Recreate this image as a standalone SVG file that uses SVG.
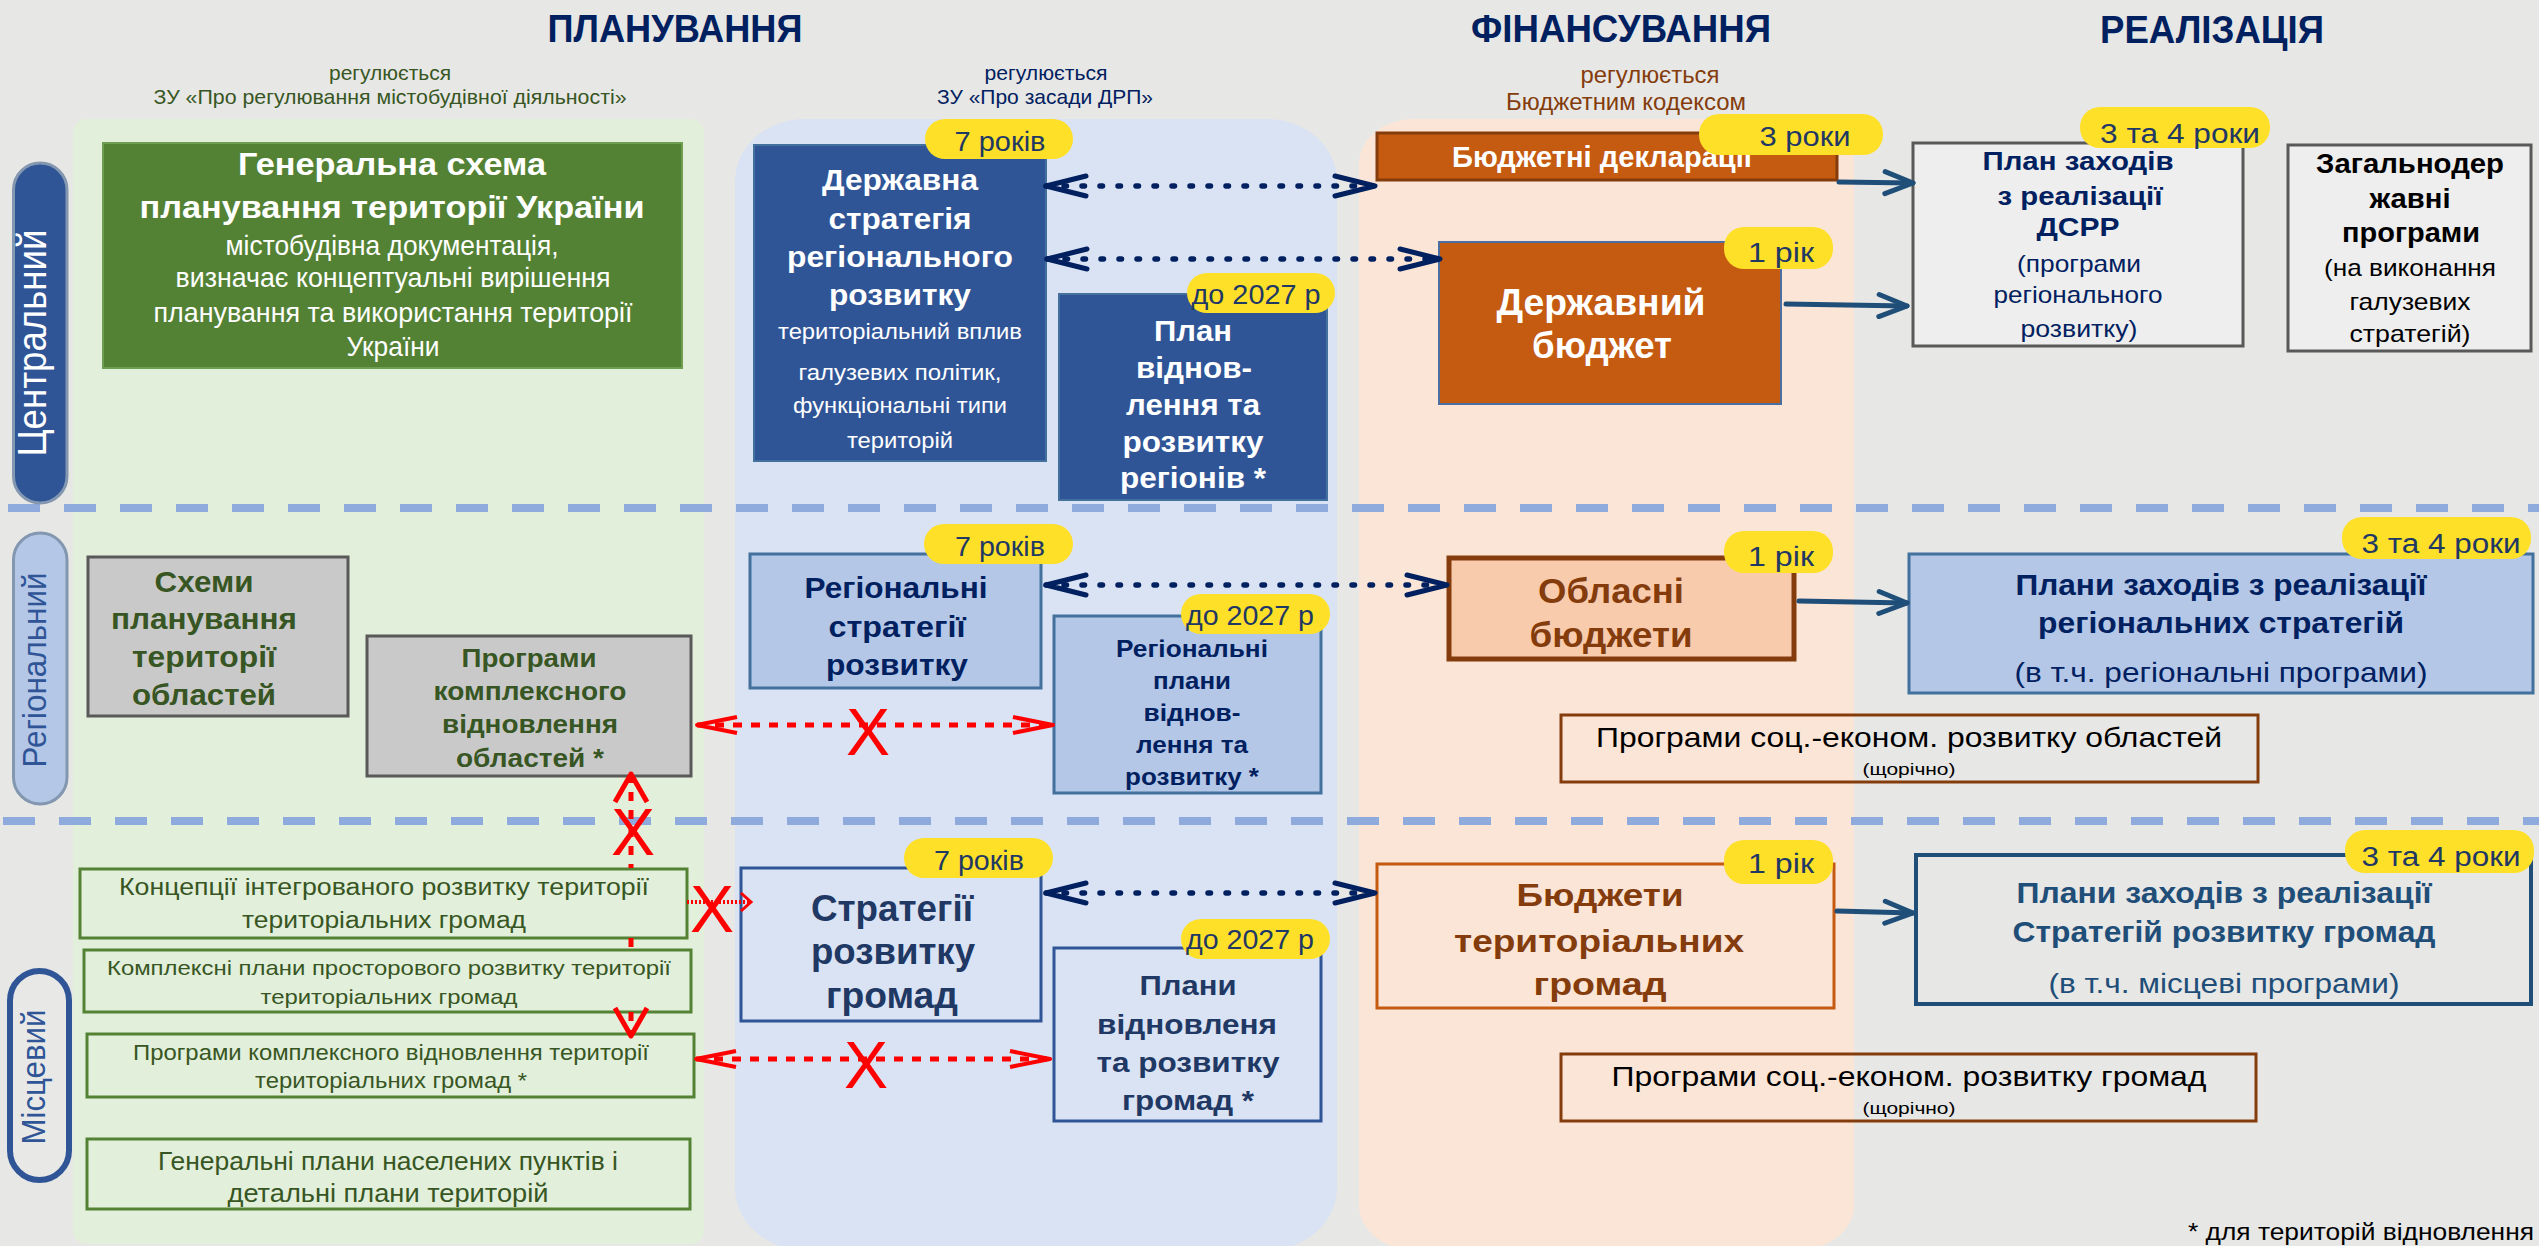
<svg xmlns="http://www.w3.org/2000/svg" width="2539" height="1246" viewBox="0 0 2539 1246">
<style>
text{font-family:"Liberation Sans",Arial,sans-serif;text-anchor:middle}
.b{font-weight:bold}
.ttl{font-size:38px;font-weight:bold;fill:#002060}
.badge{fill:#FFE028}
.bt{font-size:27px;fill:#1F3864}
.w{fill:#ffffff}
.nv{fill:#002060}
.dg{fill:#375623}
.br{fill:#843C0C}
.bk{fill:#000000}
.nd{fill:#1F3864}
.sb{fill:#1F4E79}
.dotn{fill:none;stroke:#002060;stroke-width:5.5;stroke-dasharray:2.5 15.5;stroke-linecap:round}
.solid{fill:none;stroke:#1F4E79;stroke-width:5;stroke-linecap:round}
.dotr{fill:none;stroke:#FF0000;stroke-width:5;stroke-dasharray:9 9}
.xr{fill:#FF0000;font-size:66px}
.div{stroke:#8FAADC;stroke-width:8;stroke-dasharray:32 24}
</style>
<defs>
<marker id="mN" markerUnits="userSpaceOnUse" markerWidth="60" markerHeight="40" refX="0" refY="0" orient="auto-start-reverse" overflow="visible"><path d="M-40,-10 L0,0 L-40,10" fill="none" stroke="#002060" stroke-width="5" stroke-linejoin="round" stroke-linecap="round"/></marker>
<marker id="mS" markerUnits="userSpaceOnUse" markerWidth="60" markerHeight="40" refX="0" refY="0" orient="auto" overflow="visible"><path d="M-28,-11 L0,0 L-28,11" fill="none" stroke="#1F4E79" stroke-width="5" stroke-linejoin="round" stroke-linecap="round"/></marker>
<marker id="mR" markerUnits="userSpaceOnUse" markerWidth="60" markerHeight="40" refX="0" refY="0" orient="auto-start-reverse" overflow="visible"><path d="M-40,-8 L0,0 L-40,8" fill="none" stroke="#FF0000" stroke-width="4" stroke-linejoin="round"/></marker>
<marker id="mRV" markerUnits="userSpaceOnUse" markerWidth="60" markerHeight="60" refX="0" refY="0" orient="auto-start-reverse" overflow="visible"><path d="M-28,-16 L0,0 L-28,16" fill="none" stroke="#FF0000" stroke-width="5" stroke-linejoin="round"/></marker>
<marker id="mRs" markerUnits="userSpaceOnUse" markerWidth="30" markerHeight="30" refX="0" refY="0" orient="auto" overflow="visible"><path d="M-10,-9 L0,0 L-10,9" fill="none" stroke="#FF0000" stroke-width="3"/></marker>
</defs>
<rect x="0" y="0" width="2539" height="1246" fill="#E7E7E5"/>
<g id="panels">
<rect x="73" y="119" width="631" height="1125" rx="14" fill="#E2EFDA"/>
<rect x="735" y="119" width="602" height="1131" rx="70" ry="62" fill="#DAE3F3"/>
<rect x="1359" y="119" width="495" height="1131" rx="55" ry="45" fill="#FBE5D6"/>
</g>
<g id="titles">
<text class="ttl" x="675" y="42" textLength="255" lengthAdjust="spacingAndGlyphs">ПЛАНУВАННЯ</text>
<text class="ttl" x="1621" y="42" textLength="300" lengthAdjust="spacingAndGlyphs">ФІНАНСУВАННЯ</text>
<text class="ttl" x="2212" y="43" textLength="224" lengthAdjust="spacingAndGlyphs">РЕАЛІЗАЦІЯ</text>
<text class="dg" x="390" y="80" font-size="21" textLength="122" lengthAdjust="spacingAndGlyphs">регулюється</text>
<text class="dg" x="390" y="104" font-size="21" textLength="473" lengthAdjust="spacingAndGlyphs">ЗУ «Про регулювання містобудівної діяльності»</text>
<text class="nv" x="1046" y="80" font-size="21" textLength="123" lengthAdjust="spacingAndGlyphs">регулюється</text>
<text class="nv" x="1045" y="104" font-size="21" textLength="216" lengthAdjust="spacingAndGlyphs">ЗУ «Про засади ДРП»</text>
<text class="br" x="1650" y="83" font-size="23" textLength="139" lengthAdjust="spacingAndGlyphs">регулюється</text>
<text class="br" x="1626" y="110" font-size="23" textLength="240" lengthAdjust="spacingAndGlyphs">Бюджетним кодексом</text>
</g>
<g id="dividers">
<line class="div" x1="8" y1="508" x2="2539" y2="508"/>
<line class="div" x1="3" y1="821" x2="2539" y2="821"/>
</g>
<g id="level-central">
<rect x="13.5" y="163" width="53.5" height="340" rx="26.75" fill="#2F5597" stroke="#8497B0" stroke-width="3"/>
<text class="w" transform="translate(46,343) rotate(-90)" font-size="41" textLength="227" lengthAdjust="spacingAndGlyphs">Центральний</text>
</g>
<g id="level-regional">
<rect x="13.5" y="533" width="53.5" height="271" rx="26.75" fill="#B4C7E7" stroke="#8497B0" stroke-width="3"/>
<text transform="translate(46,670) rotate(-90)" fill="#2F5597" font-size="34" textLength="195" lengthAdjust="spacingAndGlyphs">Регіональний</text>
</g>
<g id="level-local">
<rect x="10" y="971" width="59" height="209" rx="29.5" fill="#E8E8E7" stroke="#2F5597" stroke-width="6"/>
<text transform="translate(45,1077) rotate(-90)" fill="#2F5597" font-size="34" textLength="135" lengthAdjust="spacingAndGlyphs">Місцевий</text>
</g>
<g id="general-scheme">
<rect x="103" y="143" width="579" height="225" fill="#548235" stroke="#6E9E50" stroke-width="2"/>
<text class="w b" x="392" y="175" font-size="31" textLength="308" lengthAdjust="spacingAndGlyphs">Генеральна схема</text>
<text class="w b" x="392" y="218" font-size="31" textLength="505" lengthAdjust="spacingAndGlyphs">планування території України</text>
<text class="w" x="392" y="255" font-size="28" textLength="333" lengthAdjust="spacingAndGlyphs">містобудівна документація,</text>
<text class="w" x="393" y="287" font-size="28" textLength="435" lengthAdjust="spacingAndGlyphs">визначає концептуальні  вирішення</text>
<text class="w" x="393" y="322" font-size="28" textLength="479" lengthAdjust="spacingAndGlyphs">планування та  використання території</text>
<text class="w" x="393" y="356" font-size="28" textLength="93" lengthAdjust="spacingAndGlyphs">України</text>
</g>
<g id="state-strategy">
<rect x="754" y="145" width="292" height="316" fill="#2F5597" stroke="#41719C" stroke-width="2"/>
<text class="w b" x="900" y="190" font-size="30" textLength="156" lengthAdjust="spacingAndGlyphs">Державна</text>
<text class="w b" x="900" y="229" font-size="30" textLength="143" lengthAdjust="spacingAndGlyphs">стратегія</text>
<text class="w b" x="900" y="267" font-size="30" textLength="226" lengthAdjust="spacingAndGlyphs">регіонального</text>
<text class="w b" x="900" y="305" font-size="30" textLength="142" lengthAdjust="spacingAndGlyphs">розвитку</text>
<text class="w" x="900" y="339" font-size="22" textLength="244" lengthAdjust="spacingAndGlyphs">територіальний вплив</text>
<text class="w" x="900" y="380" font-size="22" textLength="203" lengthAdjust="spacingAndGlyphs">галузевих політик,</text>
<text class="w" x="900" y="413" font-size="22" textLength="214" lengthAdjust="spacingAndGlyphs">функціональні типи</text>
<text class="w" x="900" y="448" font-size="22" textLength="106" lengthAdjust="spacingAndGlyphs">територій</text>
<rect class="badge" x="925" y="119" width="148" height="40" rx="20"/>
<text class="bt" x="1000" y="151" textLength="91" lengthAdjust="spacingAndGlyphs">7 років</text>
</g>
<g id="recovery-plan-regions">
<rect x="1059" y="294" width="268" height="206" fill="#2F5597" stroke="#41719C" stroke-width="2"/>
<text class="w b" x="1193" y="341" font-size="29" textLength="78" lengthAdjust="spacingAndGlyphs">План</text>
<text class="w b" x="1194" y="378" font-size="29" textLength="116" lengthAdjust="spacingAndGlyphs">віднов-</text>
<text class="w b" x="1193" y="415" font-size="29" textLength="134" lengthAdjust="spacingAndGlyphs">лення та</text>
<text class="w b" x="1193" y="452" font-size="29" textLength="141" lengthAdjust="spacingAndGlyphs">розвитку</text>
<text class="w b" x="1193" y="488" font-size="29" textLength="146" lengthAdjust="spacingAndGlyphs">регіонів *</text>
<rect class="badge" x="1187" y="273" width="148" height="40" rx="20"/>
<text class="bt" x="1256" y="304" textLength="129" lengthAdjust="spacingAndGlyphs">до 2027 р</text>
</g>
<g id="budget-declarations">
<rect x="1377" y="133" width="460" height="47" fill="#C55A11" stroke="#843C0C" stroke-width="3"/>
<text class="w b" x="1602" y="167" font-size="30" textLength="300" lengthAdjust="spacingAndGlyphs">Бюджетні декларації</text>
<rect class="badge" x="1699" y="114" width="184" height="41" rx="20"/>
<text class="bt" x="1805" y="146" textLength="91" lengthAdjust="spacingAndGlyphs">3 роки</text>
</g>
<g id="state-budget">
<rect x="1439" y="242" width="342" height="162" fill="#C55A11" stroke="#4A6FA0" stroke-width="2"/>
<text class="w b" x="1601" y="315" font-size="36" textLength="209" lengthAdjust="spacingAndGlyphs">Державний</text>
<text class="w b" x="1602" y="358" font-size="36" textLength="140" lengthAdjust="spacingAndGlyphs">бюджет</text>
<rect class="badge" x="1724" y="227" width="109" height="42" rx="20"/>
<text class="bt" x="1781" y="262" textLength="66" lengthAdjust="spacingAndGlyphs">1 рік</text>
</g>
<g id="dsrr-action-plan">
<rect x="1913" y="143" width="330" height="203" fill="#EEEEEE" stroke="#595959" stroke-width="3"/>
<text class="nv b" x="2078" y="170" font-size="26" textLength="191" lengthAdjust="spacingAndGlyphs">План заходів</text>
<text class="nv b" x="2080" y="205" font-size="26" textLength="165" lengthAdjust="spacingAndGlyphs">з реалізації</text>
<text class="nv b" x="2078" y="236" font-size="26" textLength="83" lengthAdjust="spacingAndGlyphs">ДСРР</text>
<text class="nv" x="2079" y="272" font-size="24" textLength="124" lengthAdjust="spacingAndGlyphs">(програми</text>
<text class="nv" x="2078" y="303" font-size="24" textLength="169" lengthAdjust="spacingAndGlyphs">регіонального</text>
<text class="nv" x="2079" y="337" font-size="24" textLength="117" lengthAdjust="spacingAndGlyphs">розвитку)</text>
<rect class="badge" x="2080" y="107" width="190" height="41" rx="20"/>
<text class="bt" x="2180" y="143" textLength="160" lengthAdjust="spacingAndGlyphs">3 та 4 роки</text>
</g>
<g id="national-programs">
<rect x="2288" y="145" width="243" height="206" fill="#EEEEEE" stroke="#595959" stroke-width="3"/>
<text class="bk b" x="2410" y="173" font-size="28" textLength="188" lengthAdjust="spacingAndGlyphs">Загальнодер</text>
<text class="bk b" x="2410" y="208" font-size="28" textLength="81" lengthAdjust="spacingAndGlyphs">жавні</text>
<text class="bk b" x="2411" y="242" font-size="28" textLength="138" lengthAdjust="spacingAndGlyphs">програми</text>
<text class="bk" x="2410" y="276" font-size="24" textLength="172" lengthAdjust="spacingAndGlyphs">(на виконання</text>
<text class="bk" x="2410" y="310" font-size="24" textLength="121" lengthAdjust="spacingAndGlyphs">галузевих</text>
<text class="bk" x="2410" y="342" font-size="24" textLength="121" lengthAdjust="spacingAndGlyphs">стратегій)</text>
</g>
<g id="oblast-schemes">
<rect x="88" y="557" width="260" height="159" fill="#C9C9C9" stroke="#595959" stroke-width="3"/>
<text class="dg b" x="204" y="592" font-size="30" textLength="99" lengthAdjust="spacingAndGlyphs">Схеми</text>
<text class="dg b" x="204" y="629" font-size="30" textLength="186" lengthAdjust="spacingAndGlyphs">планування</text>
<text class="dg b" x="204" y="667" font-size="30" textLength="144" lengthAdjust="spacingAndGlyphs">території</text>
<text class="dg b" x="204" y="705" font-size="30" textLength="144" lengthAdjust="spacingAndGlyphs">областей</text>
</g>
<g id="oblast-recovery-programs">
<rect x="367" y="636" width="324" height="140" fill="#C9C9C9" stroke="#595959" stroke-width="3"/>
<text class="dg b" x="529" y="667" font-size="25" textLength="135" lengthAdjust="spacingAndGlyphs">Програми</text>
<text class="dg b" x="530" y="700" font-size="25" textLength="193" lengthAdjust="spacingAndGlyphs">комплексного</text>
<text class="dg b" x="530" y="733" font-size="25" textLength="176" lengthAdjust="spacingAndGlyphs">відновлення</text>
<text class="dg b" x="530" y="767" font-size="25" textLength="148" lengthAdjust="spacingAndGlyphs">областей *</text>
</g>
<g id="regional-strategies">
<rect x="750" y="554" width="291" height="134" fill="#B4C7E7" stroke="#41719C" stroke-width="3"/>
<text class="nv b" x="896" y="598" font-size="30" textLength="183" lengthAdjust="spacingAndGlyphs">Регіональні</text>
<text class="nv b" x="897" y="637" font-size="30" textLength="137" lengthAdjust="spacingAndGlyphs">стратегії</text>
<text class="nv b" x="897" y="675" font-size="30" textLength="142" lengthAdjust="spacingAndGlyphs">розвитку</text>
<rect class="badge" x="924" y="524" width="149" height="40" rx="20"/>
<text class="bt" x="1000" y="556" textLength="90" lengthAdjust="spacingAndGlyphs">7 років</text>
</g>
<g id="regional-recovery-plans">
<rect x="1054" y="616" width="267" height="177" fill="#B4C7E7" stroke="#41719C" stroke-width="3"/>
<text class="nv b" x="1192" y="657" font-size="24" textLength="152" lengthAdjust="spacingAndGlyphs">Регіональні</text>
<text class="nv b" x="1192" y="689" font-size="24" textLength="78" lengthAdjust="spacingAndGlyphs">плани</text>
<text class="nv b" x="1192" y="721" font-size="24" textLength="97" lengthAdjust="spacingAndGlyphs">віднов-</text>
<text class="nv b" x="1192" y="753" font-size="24" textLength="112" lengthAdjust="spacingAndGlyphs">лення та</text>
<text class="nv b" x="1192" y="785" font-size="24" textLength="134" lengthAdjust="spacingAndGlyphs">розвитку *</text>
<rect class="badge" x="1181" y="594" width="149" height="40" rx="20"/>
<text class="bt" x="1250" y="625" textLength="128" lengthAdjust="spacingAndGlyphs">до 2027 р</text>
</g>
<g id="oblast-budgets">
<rect x="1449" y="558" width="345" height="101" fill="#F8CBAD" stroke="#843C0C" stroke-width="5"/>
<text class="br b" x="1611" y="603" font-size="35" textLength="146" lengthAdjust="spacingAndGlyphs">Обласні</text>
<text class="br b" x="1611" y="647" font-size="35" textLength="163" lengthAdjust="spacingAndGlyphs">бюджети</text>
<rect class="badge" x="1724" y="531" width="109" height="42" rx="20"/>
<text class="bt" x="1781" y="566" textLength="66" lengthAdjust="spacingAndGlyphs">1 рік</text>
</g>
<g id="regional-action-plans">
<rect x="1909" y="554" width="624" height="139" fill="#B4C7E7" stroke="#41719C" stroke-width="3"/>
<text class="nv b" x="2221" y="595" font-size="30" textLength="411" lengthAdjust="spacingAndGlyphs">Плани заходів з реалізації</text>
<text class="nv b" x="2221" y="633" font-size="30" textLength="366" lengthAdjust="spacingAndGlyphs">регіональних стратегій</text>
<text class="nv" x="2221" y="682" font-size="28" textLength="413" lengthAdjust="spacingAndGlyphs">(в т.ч. регіональні програми)</text>
<rect class="badge" x="2342" y="517" width="189" height="42" rx="20"/>
<text class="bt" x="2441" y="553" textLength="159" lengthAdjust="spacingAndGlyphs">3 та 4 роки</text>
</g>
<g id="oblast-socioeconomic-programs">
<rect x="1561" y="715" width="697" height="67" fill="none" stroke="#843C0C" stroke-width="3"/>
<text class="bk" x="1909" y="747" font-size="28" textLength="626" lengthAdjust="spacingAndGlyphs">Програми соц.-економ. розвитку областей</text>
<text class="bk" x="1909" y="775" font-size="17" textLength="93" lengthAdjust="spacingAndGlyphs">(щорічно)</text>
</g>
<g id="integrated-concepts">
<rect x="80" y="869" width="607" height="69" fill="#E2EFDA" stroke="#548235" stroke-width="3"/>
<text class="dg" x="384" y="895" font-size="23" textLength="530" lengthAdjust="spacingAndGlyphs">Концепції  інтегрованого розвитку території</text>
<text class="dg" x="384" y="928" font-size="23" textLength="284" lengthAdjust="spacingAndGlyphs">територіальних громад</text>
</g>
<g id="spatial-plans">
<rect x="84" y="950" width="607" height="62" fill="#E2EFDA" stroke="#548235" stroke-width="3"/>
<text class="dg" x="389" y="975" font-size="21" textLength="564" lengthAdjust="spacingAndGlyphs">Комплексні плани просторового розвитку території</text>
<text class="dg" x="389" y="1004" font-size="21" textLength="257" lengthAdjust="spacingAndGlyphs">територіальних громад</text>
</g>
<g id="community-recovery-programs">
<rect x="87" y="1034" width="607" height="63" fill="#E2EFDA" stroke="#548235" stroke-width="3"/>
<text class="dg" x="391" y="1060" font-size="22" textLength="516" lengthAdjust="spacingAndGlyphs">Програми комплексного відновлення території</text>
<text class="dg" x="391" y="1088" font-size="22" textLength="272" lengthAdjust="spacingAndGlyphs">територіальних громад *</text>
</g>
<g id="general-plans">
<rect x="87" y="1139" width="603" height="70" fill="#E2EFDA" stroke="#548235" stroke-width="3"/>
<text class="dg" x="388" y="1170" font-size="25" textLength="460" lengthAdjust="spacingAndGlyphs">Генеральні плани населених пунктів і</text>
<text class="dg" x="388" y="1202" font-size="25" textLength="321" lengthAdjust="spacingAndGlyphs">детальні плани  територій</text>
</g>
<g id="community-strategies">
<rect x="741" y="868" width="300" height="153" fill="#DAE3F3" stroke="#2F5597" stroke-width="3"/>
<text class="nd b" x="892" y="921" font-size="36" textLength="162" lengthAdjust="spacingAndGlyphs">Стратегії</text>
<text class="nd b" x="893" y="964" font-size="36" textLength="164" lengthAdjust="spacingAndGlyphs">розвитку</text>
<text class="nd b" x="892" y="1008" font-size="36" textLength="132" lengthAdjust="spacingAndGlyphs">громад</text>
<rect class="badge" x="904" y="838" width="149" height="40" rx="20"/>
<text class="bt" x="979" y="870" textLength="90" lengthAdjust="spacingAndGlyphs">7 років</text>
</g>
<g id="community-recovery-plans">
<rect x="1054" y="948" width="267" height="173" fill="#DAE3F3" stroke="#2F5597" stroke-width="3"/>
<text class="nd b" x="1188" y="995" font-size="28" textLength="97" lengthAdjust="spacingAndGlyphs">Плани</text>
<text class="nd b" x="1187" y="1034" font-size="28" textLength="180" lengthAdjust="spacingAndGlyphs">відновленя</text>
<text class="nd b" x="1188" y="1072" font-size="28" textLength="183" lengthAdjust="spacingAndGlyphs">та розвитку</text>
<text class="nd b" x="1188" y="1110" font-size="28" textLength="132" lengthAdjust="spacingAndGlyphs">громад *</text>
<rect class="badge" x="1181" y="919" width="149" height="40" rx="20"/>
<text class="bt" x="1250" y="949" textLength="128" lengthAdjust="spacingAndGlyphs">до 2027 р</text>
</g>
<g id="community-budgets">
<rect x="1377" y="864" width="457" height="144" fill="#FBE5D6" stroke="#C55A11" stroke-width="3"/>
<text class="br b" x="1600" y="906" font-size="32" textLength="167" lengthAdjust="spacingAndGlyphs">Бюджети</text>
<text class="br b" x="1599" y="952" font-size="32" textLength="290" lengthAdjust="spacingAndGlyphs">територіальних</text>
<text class="br b" x="1600" y="995" font-size="32" textLength="133" lengthAdjust="spacingAndGlyphs">громад</text>
<rect class="badge" x="1724" y="840" width="109" height="44" rx="20"/>
<text class="bt" x="1781" y="873" textLength="66" lengthAdjust="spacingAndGlyphs">1 рік</text>
</g>
<g id="community-action-plans">
<rect x="1916" y="855" width="615" height="149" fill="none" stroke="#1F4E79" stroke-width="4"/>
<text class="sb b" x="2224" y="903" font-size="30" textLength="415" lengthAdjust="spacingAndGlyphs">Плани заходів з реалізації</text>
<text class="sb b" x="2224" y="942" font-size="30" textLength="423" lengthAdjust="spacingAndGlyphs">Стратегій розвитку громад</text>
<text class="sb" x="2224" y="993" font-size="28" textLength="351" lengthAdjust="spacingAndGlyphs">(в т.ч. місцеві програми)</text>
<rect class="badge" x="2345" y="830" width="189" height="43" rx="20"/>
<text class="bt" x="2441" y="866" textLength="159" lengthAdjust="spacingAndGlyphs">3 та 4 роки</text>
</g>
<g id="community-socioeconomic-programs">
<rect x="1561" y="1054" width="695" height="67" fill="none" stroke="#843C0C" stroke-width="3"/>
<text class="bk" x="1909" y="1086" font-size="28" textLength="595" lengthAdjust="spacingAndGlyphs">Програми соц.-економ. розвитку громад</text>
<text class="bk" x="1909" y="1114" font-size="17" textLength="93" lengthAdjust="spacingAndGlyphs">(щорічно)</text>
</g>
<g id="connectors">
<path class="dotn" d="M1046,186 L1375,186" marker-start="url(#mN)" marker-end="url(#mN)"/>
<path class="dotn" d="M1047,259 L1440,259" marker-start="url(#mN)" marker-end="url(#mN)"/>
<path class="dotn" d="M1046,585 L1447,585" marker-start="url(#mN)" marker-end="url(#mN)"/>
<path class="dotn" d="M1046,893 L1375,893" marker-start="url(#mN)" marker-end="url(#mN)"/>
<path class="solid" d="M1839,182 L1913,183" marker-end="url(#mS)"/>
<path class="solid" d="M1786,304 L1907,306" stroke-width="6" marker-end="url(#mS)"/>
<path class="solid" d="M1799,601 L1907,603" stroke-width="6" marker-end="url(#mS)"/>
<path class="solid" d="M1837,911 L1913,913" stroke-width="6" marker-end="url(#mS)"/>
<path class="dotr" d="M697,725 L1053,725" marker-start="url(#mR)" marker-end="url(#mR)"/>
<text class="xr" x="868" y="755">X</text>
<path class="dotr" d="M696,1059 L1050,1059" marker-start="url(#mR)" marker-end="url(#mR)"/>
<text class="xr" x="866" y="1088">X</text>
<path d="M687,902 L751,902" fill="none" stroke="#FF0000" stroke-width="4" stroke-dasharray="2 2" marker-end="url(#mRs)"/>
<text class="xr" x="712" y="932">X</text>
<path class="dotr" d="M631,774 L631,868 M631,938 L631,950 M631,1012 L631,1036" marker-start="url(#mRV)" marker-end="url(#mRV)"/>
<text class="xr" x="633" y="855" font-size="39">X</text>
</g>
<text class="bk" x="2534" y="1240" font-size="24" style="text-anchor:end" textLength="346" lengthAdjust="spacingAndGlyphs">* для територій відновлення</text>
</svg>
